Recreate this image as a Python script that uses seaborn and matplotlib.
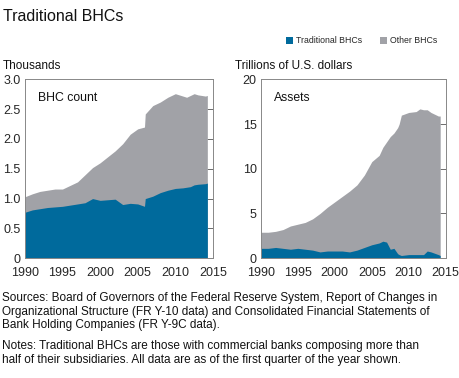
"""Traditional BHCs: count and assets, stacked areas."""

import matplotlib

matplotlib.use("Agg")

import matplotlib.pyplot as plt
import numpy as np
import pandas as pd
import seaborn as sns
from matplotlib.patches import Rectangle

BLUE = "#006a9c"
GRAY = "#a1a2a7"

# BHC count, thousands
COUNT_YEARS = [1990, 1991, 1992, 1993, 1994, 1995, 1996, 1997, 1998, 1999, 2000, 2001,
               2002, 2003, 2004, 2005, 2005.9, 2006.0, 2007, 2008, 2009, 2010, 2011,
               2011.5, 2012, 2012.5, 2013, 2014, 2014.25]
COUNT_TOTAL = [1.03, 1.08, 1.12, 1.14, 1.16, 1.16, 1.22, 1.28, 1.40, 1.52, 1.60, 1.70,
               1.80, 1.92, 2.08, 2.17, 2.20, 2.42, 2.56, 2.62, 2.70, 2.76, 2.72,
               2.70, 2.73, 2.76, 2.74, 2.72, 2.73]
COUNT_TRAD = [0.77, 0.81, 0.83, 0.85, 0.86, 0.87, 0.89, 0.91, 0.93, 1.00, 0.97, 0.98,
              0.99, 0.90, 0.92, 0.91, 0.87, 1.00, 1.04, 1.10, 1.14, 1.17, 1.18,
              1.19, 1.20, 1.23, 1.24, 1.25, 1.26]

# Assets, trillions of U.S. dollars
ASSET_YEARS = [1990, 1991, 1992, 1993, 1994, 1995, 1996, 1997, 1998, 1999, 2000, 2001,
               2002, 2003, 2004, 2005, 2006, 2006.5, 2007, 2007.5, 2008, 2008.5, 2008.7,
               2009, 2010, 2011, 2011.5, 2012, 2012.5, 2013, 2014, 2014.25]
ASSET_TOTAL = [2.9, 2.9, 3.0, 3.2, 3.6, 3.8, 4.0, 4.4, 5.0, 5.7, 6.3, 6.9,
               7.5, 8.2, 9.3, 10.8, 11.5, 12.4, 13.0, 13.6, 14.0, 14.6, 15.0,
               16.0, 16.3, 16.4, 16.7, 16.6, 16.6, 16.3, 15.9, 15.9]
ASSET_TRAD = [1.1, 1.1, 1.2, 1.1, 1.0, 1.1, 1.0, 0.9, 0.7, 0.8, 0.8, 0.8,
              0.7, 0.9, 1.2, 1.5, 1.7, 1.9, 1.8, 1.0, 1.1, 0.5, 0.4,
              0.3, 0.4, 0.4, 0.4, 0.4, 0.8, 0.7, 0.4, 0.3]

SOURCES = ("Sources: Board of Governors of the Federal Reserve System, Report of Changes in\n"
           "Organizational Structure (FR Y-10 data) and Consolidated Financial Statements of\n"
           "Bank Holding Companies (FR Y-9C data).")
NOTES = ("Notes: Traditional BHCs are those with commercial banks composing more than\n"
         "half of their subsidiaries. All data are as of the first quarter of the year shown.")

sns.set_theme(style="white")
plt.rcParams["font.family"] = ["Liberation Sans", "DejaVu Sans"]


def panel(ax, years, total, trad, ymax, step, label, yticklabels):
    df = pd.DataFrame({"year": years, "total": total, "trad": trad})
    ax.fill_between(df["year"], 0, df["total"], color=GRAY, linewidth=0)
    ax.fill_between(df["year"], 0, df["trad"], color=BLUE, linewidth=0)
    ax.set_xlim(1990, 2015)
    ax.set_ylim(0, ymax)
    ax.set_xticks(np.arange(1990, 2016, 5))
    ax.set_xticks(np.arange(1990, 2016, 1), minor=True)
    ax.set_yticks(np.arange(0, ymax + step / 2, step))
    ax.set_yticklabels(yticklabels)
    ax.tick_params(axis="x", which="both", direction="in", length=4, width=0.6,
                   color="#555555", labelsize=9, pad=6, bottom=True)
    ax.tick_params(axis="y", which="both", direction="in", length=4, width=0.6,
                   color="#555555", labelsize=9, left=False, right=True,
                   labelleft=True, pad=3)
    for sp in ax.spines.values():
        sp.set_color("#888888")
        sp.set_linewidth(0.7)
    ax.text(0.07, 0.93, label, transform=ax.transAxes, fontsize=8.8,
            va="top", ha="left", color="#111111")


fig = plt.figure(figsize=(4.6, 3.78), dpi=100)
ax1 = fig.add_axes([0.054, 0.317, 0.409, 0.473])
ax2 = fig.add_axes([0.567, 0.317, 0.402, 0.473])

panel(ax1, COUNT_YEARS, COUNT_TOTAL, COUNT_TRAD, 3.0, 0.5, "BHC count",
      ["0", "0.5", "1.0", "1.5", "2.0", "2.5", "3.0"])
panel(ax2, ASSET_YEARS, ASSET_TOTAL, ASSET_TRAD, 20, 5, "Assets",
      ["0", "5", "10", "15", "20"])

fig.text(0.007, 0.975, "Traditional BHCs", fontsize=11.5, va="top", ha="left", color="#111111")
fig.text(0.007, 0.84, "Thousands", fontsize=8.5, va="top", ha="left", color="#111111")
fig.text(0.511, 0.84, "Trillions of U.S. dollars", fontsize=8.5, va="top", ha="left",
         color="#111111")

# legend
fig.patches.append(Rectangle((0.622, 0.883), 0.015, 0.019, transform=fig.transFigure,
                             facecolor=BLUE, edgecolor="none"))
fig.text(0.643, 0.892, "Traditional BHCs", fontsize=6.3, va="center", ha="left")
fig.patches.append(Rectangle((0.826, 0.883), 0.015, 0.019, transform=fig.transFigure,
                             facecolor=GRAY, edgecolor="none"))
fig.text(0.847, 0.892, "Other BHCs", fontsize=6.3, va="center", ha="left")

fig.text(0.005, 0.227, SOURCES, fontsize=8.5, va="top", ha="left", linespacing=1.17,
         color="#111111")
fig.text(0.005, 0.1, NOTES, fontsize=8.5, va="top", ha="left", linespacing=1.17,
         color="#111111")

fig.savefig("out.png", dpi=100)
